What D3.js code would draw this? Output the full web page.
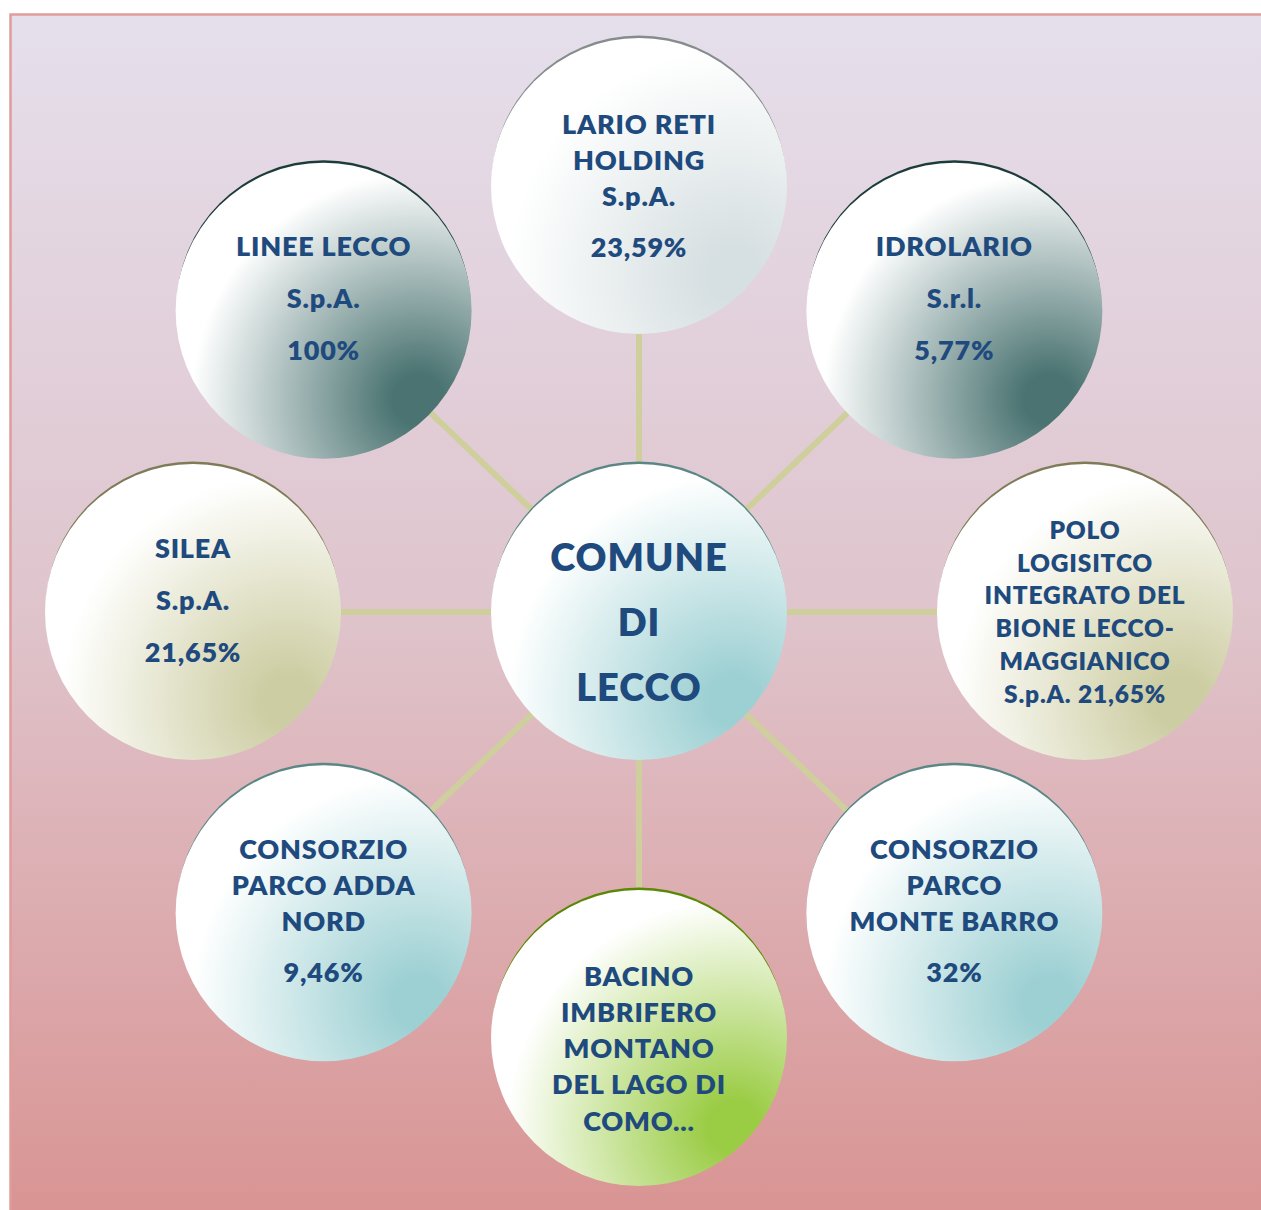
<!DOCTYPE html>
<html><head><meta charset="utf-8">
<script src="https://cdn.jsdelivr.net/npm/d3@7"></script>
<style>html,body{margin:0;padding:0;background:#fff;}svg{display:block;}</style>
</head><body>
<svg id="chart" width="1261" height="1210"></svg>
<script>
// ---- data ----
const centreLines = ["COMUNE", "DI", "LECCO"];
const companyNames = [
  "LARIO RETI HOLDING S.p.A.",
  "IDROLARIO S.r.l.",
  "POLO LOGISITCO INTEGRATO DEL BIONE LECCO-MAGGIANICO S.p.A.",
  "CONSORZIO PARCO MONTE BARRO",
  "BACINO IMBRIFERO MONTANO DEL LAGO DI COMO...",
  "CONSORZIO PARCO ADDA NORD",
  "SILEA S.p.A.",
  "LINEE LECCO S.p.A."
];
const nameLines = [
  ["LARIO RETI", "HOLDING", "S.p.A."],
  ["IDROLARIO", "S.r.l."],
  ["POLO", "LOGISITCO", "INTEGRATO DEL", "BIONE LECCO-", "MAGGIANICO", "S.p.A. 21,65%"],
  ["CONSORZIO", "PARCO", "MONTE BARRO"],
  ["BACINO", "IMBRIFERO", "MONTANO", "DEL LAGO DI", "COMO..."],
  ["CONSORZIO", "PARCO ADDA", "NORD"],
  ["SILEA", "S.p.A."],
  ["LINEE LECCO", "S.p.A."]
];
const shares = ["23,59%", "5,77%", "", "32%", "", "9,46%", "21,65%", "100%"];
const themes = ["grey", "teal", "olive", "aqua", "green", "aqua", "olive", "teal"];

// ---- styles ----
const palette = {
  grey:  {edge: "#868c8c", tint: "#d6dfe1"},
  teal:  {edge: "#1c3c3a", tint: "#4a7371"},
  aqua:  {edge: "#5a8785", tint: "#9dd0d3"},
  olive: {edge: "#7d7b58", tint: "#cdcda3"},
  green: {edge: "#5a8804", tint: "#9acc44"}
};
// text layout per node (first line offset from centre, line height, extra gap before share, font size)
const textStyle = [
  {first: -62, lh: 36, gap: 15, fs: 27},
  {first: -64, lh: 52, gap: 0, fs: 27},
  {first: -82, lh: 32.8, gap: 0, fs: 24.5},
  {first: -64, lh: 36, gap: 15, fs: 27},
  {first: -62, lh: 36.2, gap: 0, fs: 27},
  {first: -64, lh: 36, gap: 15, fs: 27},
  {first: -64, lh: 52, gap: 0, fs: 27},
  {first: -64, lh: 52, gap: 0, fs: 27}
];

const W = 1261, H = 1210;
const svg = d3.select("#chart");
const defs = svg.append("defs");

const bg = defs.append("linearGradient").attr("id", "bg").attr("x1", 0).attr("y1", 0).attr("x2", 0).attr("y2", 1);
bg.append("stop").attr("offset", 0).attr("stop-color", "#e5dfec");
bg.append("stop").attr("offset", 0.5).attr("stop-color", "#dfc4cc");
bg.append("stop").attr("offset", 1).attr("stop-color", "#d99493");

Object.entries(palette).forEach(([k, c]) => {
  const g = defs.append("radialGradient").attr("id", "g-" + k)
    .attr("cx", 0.82).attr("cy", 0.8).attr("r", 0.85).attr("fx", 0.82).attr("fy", 0.8);
  g.append("stop").attr("offset", 0).attr("stop-color", c.tint);
  g.append("stop").attr("offset", 0.1).attr("stop-color", c.tint);
  g.append("stop").attr("offset", 0.9).attr("stop-color", "#ffffff");
  g.append("stop").attr("offset", 1).attr("stop-color", "#ffffff");
});

// frame
svg.append("rect").attr("x", 10.5).attr("y", 14.5).attr("width", 1252).attr("height", 1200)
  .attr("fill", "url(#bg)").attr("stroke", "#e09c9c").attr("stroke-width", 2.5);

// layout
const cx = 639, cy = 612, R = 148;
const rx = 446, ry = 426;
const angle = d3.scaleLinear().domain([0, companyNames.length]).range([-Math.PI / 2, 1.5 * Math.PI]);
const nodes = companyNames.map((n, i) => ({
  name: n, lines: nameLines[i], share: shares[i], theme: themes[i], st: textStyle[i],
  x: cx + rx * Math.cos(angle(i)), y: cy + ry * Math.sin(angle(i))
}));

// connectors
svg.append("g").selectAll("line").data(nodes).join("line")
  .attr("x1", cx).attr("y1", cy).attr("x2", d => d.x).attr("y2", d => d.y)
  .attr("stroke", "#cfcf9e").attr("stroke-width", 6);

function bubble(g, x, y, theme) {
  g.append("circle").attr("cx", x).attr("cy", y - 3.5).attr("r", R - 1).attr("fill", palette[theme].edge);
  g.append("circle").attr("cx", x).attr("cy", y).attr("r", R).attr("fill", `url(#g-${theme})`);
}

const txtColor = "#1f4a7e";
const font = "Lato, 'DejaVu Sans', sans-serif";

// satellites
nodes.forEach(d => {
  const g = svg.append("g");
  bubble(g, d.x, d.y, d.theme);
  const all = d.lines.slice();
  const ys = all.map((l, j) => d.y + d.st.first + j * d.st.lh);
  if (d.share) { all.push(d.share); ys.push(d.y + d.st.first + d.lines.length * d.st.lh + d.st.gap); }
  g.selectAll("text").data(all).join("text")
    .attr("x", d.x).attr("y", (t, j) => ys[j] + d.st.fs * 0.36)
    .attr("text-anchor", "middle").attr("font-family", font).attr("font-weight", 800)
    .attr("letter-spacing", 0.8)
    .attr("font-size", d.st.fs).attr("fill", txtColor).text(t => t);
});

// centre
const cg = svg.append("g");
bubble(cg, cx, cy, "aqua");
cg.selectAll("text").data(centreLines).join("text")
  .attr("x", cx).attr("y", (t, j) => cy - 55 + j * 65 + 38 * 0.36)
  .attr("text-anchor", "middle").attr("font-family", font).attr("font-weight", 800)
  .attr("font-size", 38).attr("fill", txtColor).attr("letter-spacing", 1).text(t => t);
</script>
</body></html>
